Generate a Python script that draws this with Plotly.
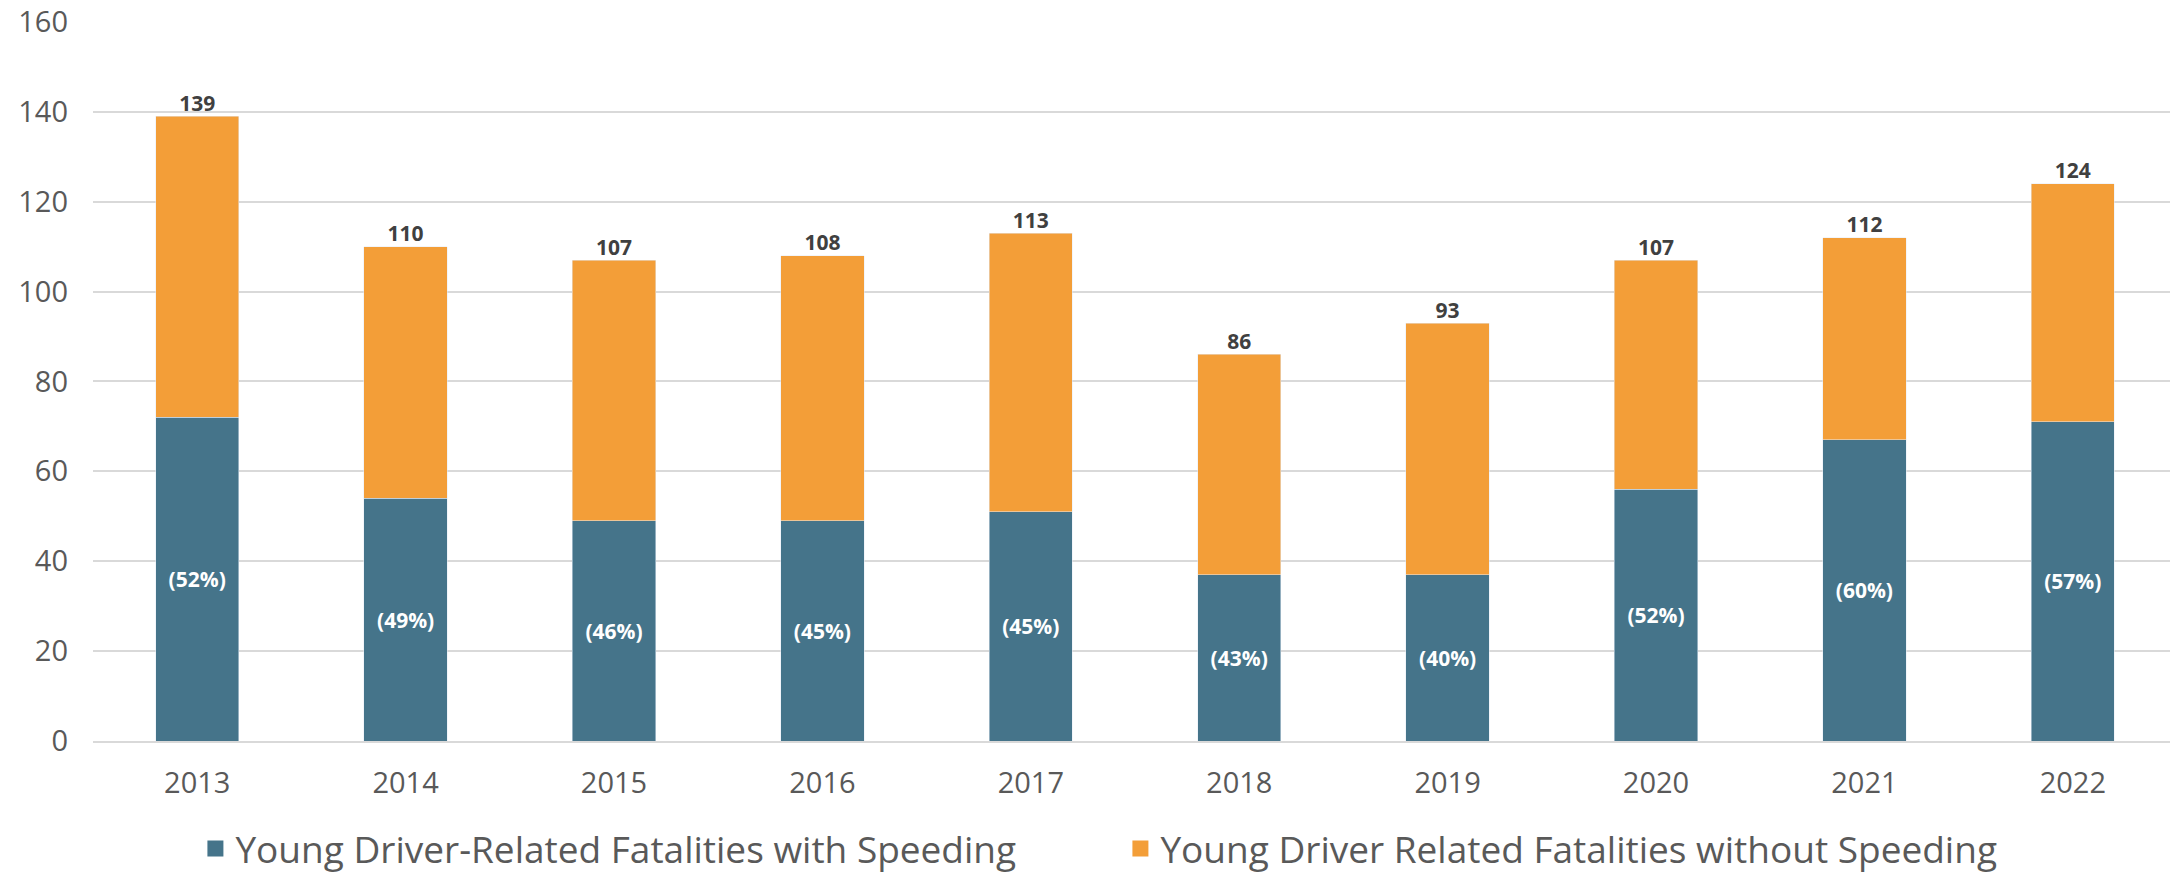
import plotly.graph_objects as go

years = ["2013", "2014", "2015", "2016", "2017", "2018", "2019", "2020", "2021", "2022"]
with_speeding = [72, 54, 49, 49, 51, 37, 37, 56, 67, 71]
without_speeding = [67, 56, 58, 59, 62, 49, 56, 51, 45, 53]
totals = [139, 110, 107, 108, 113, 86, 93, 107, 112, 124]
pct_labels = ["(52%)", "(49%)", "(46%)", "(45%)", "(45%)", "(43%)", "(40%)", "(52%)", "(60%)", "(57%)"]

BLUE = "#45748A"
ORANGE = "#F39E38"
GRID = "#D9D9D9"
TEXT = "#595959"
FONT = "Open Sans"

fig = go.Figure()
fig.add_trace(
    go.Bar(
        x=years,
        y=with_speeding,
        marker={"color": BLUE},
        text=pct_labels,
        textposition="inside",
        insidetextanchor="middle",
        textfont={"family": FONT, "size": 21, "color": "white", "weight": "bold"},
        showlegend=False,
    )
)
fig.add_trace(
    go.Bar(
        x=years,
        y=without_speeding,
        marker={"color": ORANGE},
        showlegend=False,
    )
)
fig.add_trace(
    go.Scatter(
        x=years,
        y=totals,
        mode="text",
        text=[str(t) for t in totals],
        textposition="top center",
        textfont={"family": FONT, "size": 21, "color": "#404040", "weight": "bold"},
        showlegend=False,
        cliponaxis=False,
    )
)

# legend-only entries with larger square swatches
for name, color in [
    ("Young Driver-Related Fatalities with Speeding", BLUE),
    ("Young Driver Related Fatalities without Speeding", ORANGE),
]:
    fig.add_trace(
        go.Scatter(
            x=[None],
            y=[None],
            mode="markers",
            name=name,
            marker={"symbol": "square", "size": 20, "color": color},
        )
    )

# page body has an 8px margin, so the figure is sized 8px smaller each way
fig.update_layout(
    barmode="stack",
    bargap=0.6,
    width=2170,
    height=866,
    margin={"l": 85, "r": 1, "t": 13, "b": 133, "autoexpand": False},
    plot_bgcolor="white",
    paper_bgcolor="white",
    font={"family": FONT, "color": TEXT},
    legend={
        "orientation": "h",
        "traceorder": "normal",
        "x": 0.493,
        "xanchor": "center",
        "y": -0.15,
        "yanchor": "middle",
        "font": {"size": 37, "color": TEXT},
        "entrywidth": 880,
        "itemsizing": "trace",
    },
)
fig.update_yaxes(
    range=[0, 160.2],
    tickvals=[0, 20, 40, 60, 80, 100, 120, 140, 160],
    gridcolor=GRID,
    gridwidth=1.5,
    zeroline=False,
    showline=False,
    tickfont={"size": 29, "color": TEXT},
    ticklabelstandoff=24,
    ticklabeloverflow="allow",
)
fig.update_xaxes(
    showline=True,
    linecolor=GRID,
    linewidth=1.5,
    tickfont={"size": 29, "color": TEXT},
    ticklabelstandoff=15,
)

fig.write_html("out.html")
